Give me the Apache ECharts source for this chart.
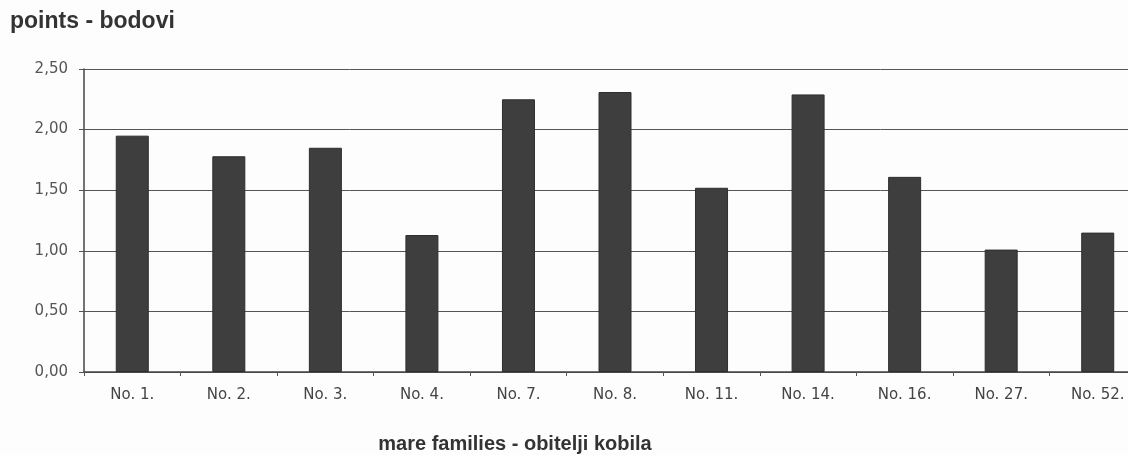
<!DOCTYPE html>
<html>
<head>
<meta charset="utf-8">
<script src="https://cdn.jsdelivr.net/npm/echarts@6/dist/echarts.min.js"></script>
<style>
html,body{margin:0;padding:0;background:#fdfdfd;overflow:hidden;}
#chart{width:1146px;height:455px;}
</style>
</head>
<body>
<div id="chart"></div>
<script>
const categories = ['No. 1.', 'No. 2.', 'No. 3.', 'No. 4.', 'No. 7.', 'No. 8.', 'No. 11.', 'No. 14.', 'No. 16.', 'No. 27.', 'No. 52.'];
const points = [1.95, 1.78, 1.85, 1.13, 2.25, 2.31, 1.52, 2.29, 1.61, 1.01, 1.15];
const yTicks = [0, 0.5, 1, 1.5, 2, 2.5];
const yTitle = 'points - bodovi';
const xTitle = 'mare families - obitelji kobila';

const chart = echarts.init(document.getElementById('chart'), null, {renderer: 'canvas'});
chart.setOption({
  backgroundColor: '#fdfdfd',
  animation: false,
  title: [
    {text: yTitle, left: 5, top: 5,
     textStyle: {fontFamily: 'Liberation Sans', fontSize: 23, fontWeight: 'bold', color: '#333'}},
    {text: xTitle, left: 510, top: 429, textAlign: 'center',
     textStyle: {fontFamily: 'Liberation Sans', fontSize: 20, fontWeight: 'bold', color: '#333'}}
  ],
  grid: {left: 84, right: 0, top: 69, bottom: 83, containLabel: false},
  xAxis: {
    type: 'category',
    data: categories,
    axisLine: {show: true, lineStyle: {color: '#444', width: 1.5}},
    axisTick: {show: true, length: 4, lineStyle: {color: '#555'}},
    axisLabel: {fontFamily: 'DejaVu Sans', fontSize: 15, color: '#444', margin: 16}
  },
  yAxis: {
    type: 'value',
    min: yTicks[0],
    max: yTicks[yTicks.length - 1],
    interval: 0.5,
    axisLine: {show: true, lineStyle: {color: '#444', width: 1.5}},
    axisTick: {show: true, length: 5, lineStyle: {color: '#555'}},
    splitLine: {show: true, lineStyle: {color: '#555', width: 1}},
    axisLabel: {fontFamily: 'DejaVu Sans', fontSize: 15, color: '#555', margin: 16,
      formatter: v => v.toFixed(2).replace('.', ',')}
  },
  series: [{
    type: 'bar',
    data: points,
    barWidth: 33,
    itemStyle: {color: '#3e3e3e', borderColor: '#2e2e2e', borderWidth: 1}
  }]
});
</script>
</body>
</html>
